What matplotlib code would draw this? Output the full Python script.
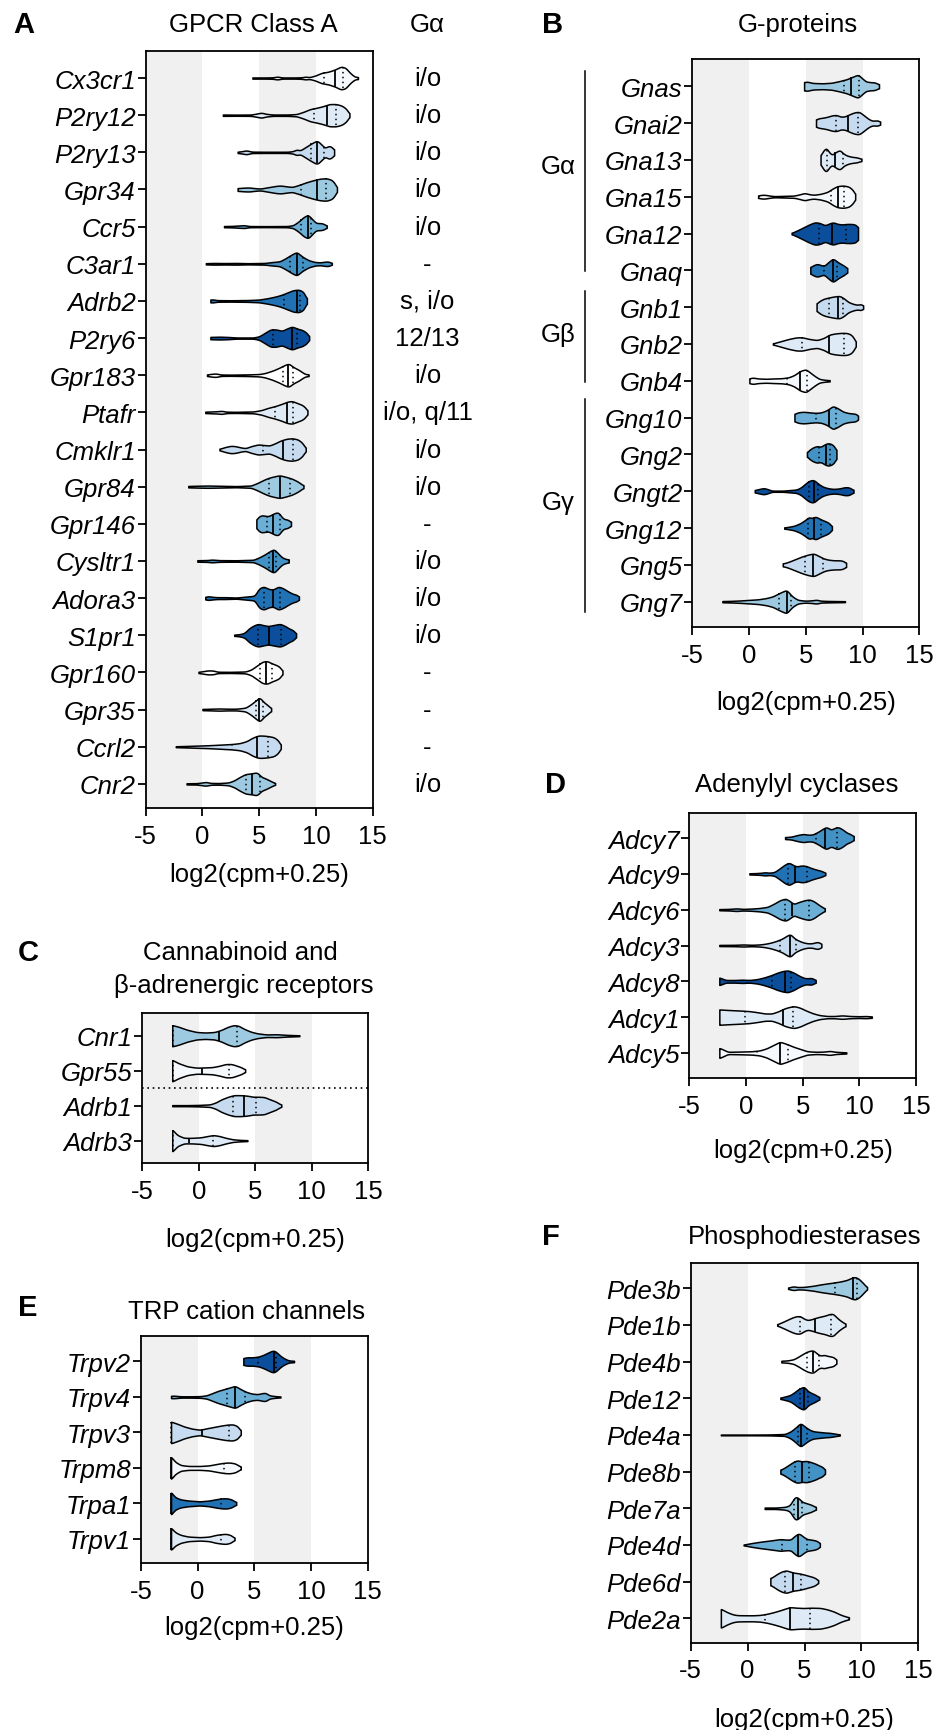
import numpy as np
import matplotlib
matplotlib.use("Agg")
import matplotlib.pyplot as plt
from matplotlib.lines import Line2D

plt.rcParams['font.family'] = ['Liberation Sans', 'DejaVu Sans']
plt.rcParams['axes.unicode_minus'] = False

# ---------------- DATA ----------------
# Each violin: knot positions (log2(cpm+0.25)) and relative density at those knots,
# plus median and quartiles, all read from the reference picture.

# Panel A: GPCR class A
A_genes = ["Cx3cr1", "P2ry12", "P2ry13", "Gpr34", "Ccr5", "C3ar1", "Adrb2", "P2ry6", "Gpr183", "Ptafr",
           "Cmklr1", "Gpr84", "Gpr146", "Cysltr1", "Adora3", "S1pr1", "Gpr160", "Gpr35", "Ccrl2", "Cnr2"]
A_galpha = ["i/o", "i/o", "i/o", "i/o", "i/o", "-", "s, i/o", "12/13", "i/o", "i/o, q/11",
            "i/o", "i/o", "-", "i/o", "i/o", "i/o", "-", "-", "-", "i/o"]
A_median = [11.65, 10.97, 10.1, 10.1, 9.26, 8.3, 8.32, 7.88, 7.5, 7.45, 7.1, 6.8, 6.2, 6.2, 6.2, 5.82, 5.6, 5.0, 4.85, 4.4]
A_q1 = [10.7, 9.85, 9.6, 8.7, 8.7, 7.7, 7.2, 6.2, 7.1, 6.4, 5.3, 5.9, 5.7, 5.9, 5.4, 4.9, 5.1, 4.7, 2.6, 3.8]
A_q3 = [12.4, 11.75, 10.7, 10.9, 9.6, 8.9, 8.6, 8.3, 8.0, 8.0, 8.0, 7.7, 6.8, 6.5, 6.8, 6.9, 6.1, 5.3, 5.8, 5.1]
A_x = [
    [4.4, 5.5, 6.2, 6.6, 7.0, 8.2, 8.8, 9.1, 9.4, 9.9, 10.5, 11.1, 11.7, 12.2, 12.6, 13.0, 13.4, 13.7],
    [1.8, 3.0, 4.3, 4.8, 5.2, 5.6, 6.2, 7.5, 8.3, 8.9, 9.5, 10.0, 10.6, 11.2, 11.8, 12.3, 12.7, 12.95],
    [3.1, 3.5, 3.9, 4.3, 5.5, 7.5, 8.0, 8.3, 8.6, 9.1, 9.6, 10.1, 10.5, 10.8, 11.1, 11.35, 11.6],
    [3.1, 3.6, 4.1, 4.6, 5.1, 5.8, 6.5, 6.9, 7.4, 7.9, 8.5, 9.1, 9.7, 10.3, 10.9, 11.4, 11.7, 11.85],
    [1.9, 2.6, 3.3, 3.7, 4.1, 5.5, 7.5, 8.0, 8.5, 8.9, 9.3, 9.7, 10.0, 10.3, 10.6, 10.95],
    [0.3, 1.0, 2.0, 3.0, 4.0, 5.5, 6.2, 6.8, 7.3, 7.8, 8.3, 8.8, 9.35, 9.9, 10.4, 10.8, 11.1, 11.4],
    [0.7, 0.9, 1.3, 2.5, 4.0, 5.0, 5.8, 6.5, 7.0, 7.5, 8.0, 8.5, 8.9, 9.2],
    [0.7, 1.5, 2.2, 3.0, 4.5, 5.0, 5.5, 6.0, 6.5, 7.0, 7.5, 7.9, 8.4, 8.8, 9.2, 9.4],
    [0.4, 0.8, 1.2, 1.6, 2.5, 4.0, 5.0, 5.5, 6.2, 6.8, 7.2, 7.6, 8.0, 8.5, 9.0, 9.35],
    [0.25, 0.8, 1.3, 1.7, 2.1, 3.0, 4.5, 5.2, 5.8, 6.4, 7.0, 7.5, 7.9, 8.4, 8.8, 9.1, 9.25],
    [1.5, 2.0, 2.5, 2.9, 3.4, 3.8, 4.3, 4.9, 5.4, 5.9, 6.4, 6.9, 7.4, 7.9, 8.4, 8.8, 9.1],
    [-1.25, -0.5, 0.5, 1.5, 3.0, 4.3, 4.9, 5.4, 5.9, 6.4, 6.8, 7.3, 7.9, 8.4, 8.9],
    [4.75, 4.9, 5.2, 5.5, 5.8, 6.1, 6.4, 6.7, 7.0, 7.2, 7.5, 7.8],
    [-0.45, 0.5, 0.8, 1.5, 3.0, 4.5, 5.0, 5.5, 5.9, 6.3, 6.6, 7.0, 7.3, 7.6],
    [0.25, 0.5, 0.8, 1.3, 2.0, 3.0, 4.6, 5.0, 5.4, 5.8, 6.2, 6.7, 7.1, 7.6, 8.0, 8.3, 8.5],
    [2.8, 3.3, 3.7, 4.1, 4.5, 4.9, 5.3, 5.8, 6.3, 6.85, 7.3, 7.7, 8.0, 8.25],
    [-0.35, 0.0, 0.5, 1.0, 1.3, 2.5, 3.8, 4.3, 4.8, 5.3, 5.7, 6.1, 6.5, 6.8, 7.05],
    [0.0, 0.8, 1.5, 2.2, 3.0, 3.8, 4.3, 4.7, 5.05, 5.4, 5.7, 6.05],
    [-2.35, -1.0, 0.5, 1.5, 2.6, 3.3, 3.9, 4.4, 4.9, 5.3, 5.8, 6.3, 6.7, 6.9],
    [-1.4, -0.5, 0.0, 0.3, 0.7, 1.5, 2.3, 2.8, 3.3, 3.8, 4.3, 4.8, 5.2, 5.6, 6.0, 6.4],
]
A_w = [
    [0.05, 0.05, 0.06, 0.13, 0.05, 0.05, 0.07, 0.13, 0.07, 0.2, 0.45, 0.55, 0.75, 1.0, 0.9, 0.45, 0.12, 0.08],
    [0.06, 0.05, 0.06, 0.15, 0.23, 0.12, 0.06, 0.06, 0.1, 0.3, 0.55, 0.65, 0.8, 1.0, 1.0, 0.85, 0.55, 0.1],
    [0.05, 0.1, 0.17, 0.06, 0.05, 0.05, 0.1, 0.25, 0.15, 0.45, 0.75, 1.0, 0.65, 0.35, 0.55, 0.5, 0.2],
    [0.12, 0.16, 0.18, 0.12, 0.08, 0.2, 0.32, 0.35, 0.28, 0.22, 0.4, 0.62, 0.8, 0.95, 1.0, 0.85, 0.5, 0.1],
    [0.05, 0.06, 0.1, 0.12, 0.05, 0.04, 0.05, 0.12, 0.45, 0.8, 1.0, 0.6, 0.3, 0.3, 0.28, 0.08],
    [0.05, 0.07, 0.06, 0.07, 0.05, 0.07, 0.15, 0.2, 0.45, 0.75, 1.0, 0.6, 0.3, 0.15, 0.12, 0.18, 0.2, 0.06],
    [0.12, 0.14, 0.07, 0.06, 0.08, 0.12, 0.25, 0.4, 0.55, 0.75, 0.95, 1.0, 0.8, 0.15],
    [0.1, 0.12, 0.1, 0.05, 0.05, 0.15, 0.45, 0.75, 0.75, 0.62, 0.85, 1.0, 0.8, 0.7, 0.45, 0.1],
    [0.06, 0.12, 0.15, 0.06, 0.05, 0.07, 0.1, 0.18, 0.4, 0.65, 0.85, 1.0, 0.7, 0.45, 0.12, 0.06],
    [0.06, 0.08, 0.1, 0.14, 0.06, 0.05, 0.08, 0.2, 0.4, 0.55, 0.75, 0.95, 1.0, 0.8, 0.65, 0.4, 0.1],
    [0.06, 0.22, 0.33, 0.3, 0.18, 0.12, 0.3, 0.45, 0.4, 0.35, 0.55, 0.8, 0.95, 1.0, 0.9, 0.6, 0.1],
    [0.06, 0.08, 0.1, 0.08, 0.05, 0.1, 0.35, 0.6, 0.8, 0.92, 1.0, 0.88, 0.7, 0.45, 0.1],
    [0.3, 0.6, 0.75, 0.7, 0.65, 0.8, 0.95, 1.0, 0.55, 0.4, 0.38, 0.15],
    [0.06, 0.08, 0.12, 0.07, 0.06, 0.1, 0.3, 0.55, 0.8, 1.0, 0.7, 0.3, 0.18, 0.12],
    [0.1, 0.17, 0.12, 0.08, 0.08, 0.05, 0.2, 0.85, 1.0, 0.8, 0.72, 1.0, 0.85, 0.55, 0.35, 0.3, 0.1],
    [0.05, 0.1, 0.2, 0.6, 0.85, 1.0, 0.9, 0.8, 0.9, 1.0, 0.8, 0.55, 0.45, 0.12],
    [0.05, 0.1, 0.18, 0.16, 0.06, 0.05, 0.08, 0.25, 0.6, 0.95, 1.0, 0.8, 0.65, 0.5, 0.1],
    [0.05, 0.07, 0.09, 0.07, 0.07, 0.15, 0.45, 0.75, 1.0, 0.6, 0.4, 0.1],
    [0.04, 0.08, 0.13, 0.18, 0.24, 0.32, 0.5, 0.8, 1.0, 1.0, 0.95, 0.85, 0.55, 0.1],
    [0.05, 0.06, 0.12, 0.17, 0.08, 0.07, 0.12, 0.3, 0.6, 0.85, 0.9, 1.0, 0.6, 0.45, 0.25, 0.06],
]

# Panel B: G-proteins
B_genes = ["Gnas", "Gnai2", "Gna13", "Gna15", "Gna12", "Gnaq", "Gnb1", "Gnb2", "Gnb4",
           "Gng10", "Gng2", "Gngt2", "Gng12", "Gng5", "Gng7"]
B_groups = ["Gα", "Gβ", "Gγ"]
B_median = [9.0, 8.7, 7.6, 7.8, 7.35, 7.4, 7.8, 7.0, 4.5, 7.05, 6.8, 5.75, 5.75, 5.67, 3.3]
B_q1 = [8.4, 7.7, 6.9, 7.2, 6.2, 6.6, 7.0, 4.7, 3.3, 5.9, 6.2, 5.3, 5.2, 4.9, 2.6]
B_q3 = [9.65, 9.6, 8.25, 8.35, 8.5, 7.75, 8.3, 8.35, 5.1, 7.7, 7.1, 6.1, 6.3, 6.5, 3.7]
B_x = [
    [4.85, 5.1, 5.6, 6.5, 7.3, 8.0, 8.6, 9.1, 9.6, 10.0, 10.3, 10.7, 11.1, 11.45],
    [5.9, 6.1, 6.5, 6.9, 7.3, 7.7, 8.1, 8.5, 8.9, 9.3, 9.7, 10.1, 10.5, 10.85, 11.1, 11.35, 11.55],
    [6.3, 6.5, 6.8, 7.05, 7.3, 7.6, 8.0, 8.3, 8.6, 9.0, 9.5, 9.9],
    [0.8, 1.1, 1.4, 1.8, 2.2, 3.0, 4.0, 4.5, 4.9, 5.3, 5.7, 6.3, 6.9, 7.4, 7.8, 8.3, 8.8, 9.2, 9.35],
    [3.75, 4.3, 4.8, 5.3, 5.8, 6.2, 6.7, 7.1, 7.4, 7.8, 8.2, 8.6, 9.0, 9.4, 9.6],
    [5.4, 5.6, 6.0, 6.3, 6.6, 7.0, 7.4, 7.8, 8.15, 8.4, 8.65],
    [5.95, 6.2, 6.6, 7.0, 7.5, 8.0, 8.4, 8.75, 9.2, 9.6, 9.85, 10.05],
    [2.1, 2.8, 3.5, 4.2, 4.7, 5.3, 6.0, 6.6, 7.1, 7.6, 8.1, 8.6, 9.0, 9.3, 9.4],
    [0.03, 0.3, 0.8, 1.5, 2.2, 2.9, 3.5, 4.0, 4.5, 5.0, 5.4, 5.8, 6.2, 6.7, 7.1],
    [4.0, 4.3, 4.8, 5.3, 5.9, 6.4, 6.9, 7.4, 7.9, 8.3, 8.8, 9.2, 9.5, 9.6],
    [5.1, 5.3, 5.6, 6.0, 6.3, 6.6, 6.9, 7.2, 7.5, 7.7],
    [0.5, 0.9, 1.3, 1.6, 2.0, 3.0, 4.2, 4.6, 5.0, 5.35, 5.7, 6.1, 6.5, 7.0, 7.5, 8.0, 8.4, 8.8, 9.2],
    [3.1, 3.6, 4.0, 4.5, 4.9, 5.3, 5.6, 5.8, 6.1, 6.4, 6.8, 7.1, 7.3],
    [2.97, 3.3, 3.7, 4.2, 4.7, 5.2, 5.7, 6.2, 6.6, 7.0, 7.5, 8.0, 8.3, 8.55],
    [-2.35, -1.5, -0.8, 0.0, 0.8, 1.5, 2.1, 2.7, 3.3, 3.8, 4.3, 5.0, 5.6, 5.95, 6.3, 7.0, 8.45],
]
B_w = [
    [0.35, 0.4, 0.28, 0.25, 0.3, 0.45, 0.6, 0.8, 1.0, 0.65, 0.4, 0.35, 0.33, 0.15],
    [0.3, 0.42, 0.47, 0.55, 0.68, 0.72, 0.55, 0.6, 0.8, 0.95, 1.0, 0.7, 0.38, 0.2, 0.22, 0.25, 0.1],
    [0.3, 0.7, 1.0, 0.6, 0.38, 0.6, 0.8, 0.5, 0.35, 0.25, 0.2, 0.08],
    [0.1, 0.17, 0.17, 0.1, 0.05, 0.07, 0.1, 0.22, 0.33, 0.22, 0.17, 0.25, 0.42, 0.75, 0.95, 1.0, 0.9, 0.55, 0.15],
    [0.05, 0.3, 0.55, 0.8, 1.0, 0.95, 0.72, 0.9, 1.0, 0.85, 0.8, 0.85, 0.85, 0.8, 0.5],
    [0.25, 0.4, 0.55, 0.45, 0.35, 0.7, 1.0, 0.7, 0.5, 0.38, 0.15],
    [0.3, 0.55, 0.75, 0.85, 0.95, 1.0, 0.75, 0.45, 0.28, 0.2, 0.3, 0.12],
    [0.05, 0.25, 0.45, 0.6, 0.6, 0.45, 0.35, 0.55, 0.85, 0.95, 1.0, 1.0, 0.85, 0.45, 0.1],
    [0.2, 0.28, 0.2, 0.17, 0.2, 0.22, 0.3, 0.5, 0.85, 1.0, 0.7, 0.4, 0.15, 0.08, 0.05],
    [0.3, 0.45, 0.5, 0.45, 0.4, 0.45, 0.65, 1.0, 0.75, 0.5, 0.38, 0.35, 0.3, 0.1],
    [0.15, 0.4, 0.6, 0.75, 0.65, 0.85, 1.0, 0.95, 0.75, 0.3],
    [0.1, 0.2, 0.28, 0.2, 0.05, 0.05, 0.15, 0.35, 0.7, 0.95, 1.0, 0.65, 0.4, 0.25, 0.2, 0.25, 0.35, 0.35, 0.1],
    [0.05, 0.12, 0.2, 0.4, 0.65, 0.95, 0.8, 1.0, 0.85, 0.7, 0.55, 0.4, 0.1],
    [0.12, 0.2, 0.35, 0.55, 0.75, 0.9, 1.0, 0.75, 0.55, 0.45, 0.4, 0.4, 0.35, 0.15],
    [0.05, 0.07, 0.1, 0.15, 0.2, 0.3, 0.45, 0.75, 1.0, 0.45, 0.15, 0.08, 0.12, 0.17, 0.08, 0.06, 0.04],
]

# Panel C: cannabinoid and beta-adrenergic receptors
C_genes = ["Cnr1", "Gpr55", "Adrb1", "Adrb3"]
C_median = [1.8, 0.3, 3.98, -0.9]
C_q1 = [-2.3, -2.3, 3.0, -2.3]
C_q3 = [3.4, 2.65, 5.1, 1.3]
C_x = [
    [-2.35, -1.8, -1.0, -0.2, 0.6, 1.4, 2.0, 2.6, 3.1, 3.5, 4.0, 4.6, 5.2, 6.0, 6.9, 7.8, 8.9],
    [-2.35, -1.8, -1.0, -0.2, 0.5, 1.2, 1.8, 2.4, 2.9, 3.4, 3.8, 4.1],
    [-2.35, -1.0, 0.0, 1.0, 1.5, 2.0, 2.6, 3.1, 3.7, 4.3, 4.8, 5.3, 5.8, 6.3, 6.8, 7.3],
    [-2.35, -1.9, -1.3, -0.6, 0.2, 0.8, 1.3, 1.8, 2.4, 3.0, 3.6, 4.3],
]
C_w = [
    [1.0, 0.85, 0.55, 0.35, 0.3, 0.35, 0.55, 0.85, 1.0, 0.95, 0.65, 0.38, 0.22, 0.12, 0.14, 0.08, 0.04],
    [1.0, 0.7, 0.4, 0.28, 0.3, 0.33, 0.45, 0.62, 0.62, 0.45, 0.3, 0.1],
    [0.05, 0.05, 0.07, 0.12, 0.3, 0.6, 0.85, 1.0, 1.0, 0.95, 0.85, 0.85, 0.82, 0.6, 0.4, 0.08],
    [1.0, 0.5, 0.25, 0.25, 0.3, 0.42, 0.5, 0.42, 0.25, 0.12, 0.07, 0.04],
]

# Panel D: adenylyl cyclases
D_genes = ["Adcy7", "Adcy9", "Adcy6", "Adcy3", "Adcy8", "Adcy1", "Adcy5"]
D_median = [6.95, 4.3, 4.1, 3.87, 3.43, 3.28, 3.0]
D_q1 = [6.2, 3.7, 3.4, 3.0, 2.26, -0.05, 1.0]
D_q3 = [8.0, 5.35, 5.6, 4.45, 4.0, 4.15, 3.7]
D_x = [
    [3.45, 4.0, 4.5, 5.05, 5.5, 5.9, 6.4, 6.8, 7.1, 7.5, 7.8, 8.1, 8.5, 8.9, 9.2, 9.5],
    [0.3, 0.9, 1.4, 1.7, 2.0, 2.5, 3.0, 3.4, 3.8, 4.2, 4.5, 4.9, 5.3, 5.8, 6.3, 6.7, 7.0],
    [-2.35, -1.5, -0.8, -0.3, 0.5, 1.2, 1.9, 2.5, 3.0, 3.5, 3.9, 4.2, 4.7, 5.2, 5.6, 6.0, 6.4, 6.95],
    [-2.35, -1.0, -0.2, 0.5, 1.2, 1.7, 2.2, 2.7, 3.2, 3.6, 3.9, 4.3, 4.7, 5.1, 5.5, 5.9, 6.2, 6.5, 6.65],
    [-2.35, -2.1, -1.8, -1.0, -0.3, 0.3, 1.0, 1.6, 2.2, 2.8, 3.3, 3.7, 4.2, 4.7, 5.2, 5.5, 5.8, 6.15],
    [-2.35, -1.5, -0.5, 0.3, 1.0, 1.7, 2.3, 2.9, 3.4, 3.9, 4.3, 4.8, 5.3, 5.9, 6.5, 7.2, 7.8, 8.5, 9.2, 10.0, 10.6, 11.1],
    [-2.35, -2.0, -1.6, -0.5, 0.5, 1.2, 1.8, 2.4, 3.0, 3.6, 4.2, 4.8, 5.4, 6.2, 6.9, 7.4, 7.9, 8.85],
]
D_w = [
    [0.08, 0.12, 0.25, 0.35, 0.28, 0.3, 0.55, 0.8, 0.95, 0.7, 0.85, 0.95, 0.75, 0.45, 0.35, 0.15],
    [0.05, 0.07, 0.1, 0.15, 0.1, 0.15, 0.5, 0.8, 1.0, 0.75, 0.65, 0.75, 0.7, 0.5, 0.35, 0.25, 0.08],
    [0.05, 0.07, 0.12, 0.07, 0.1, 0.15, 0.25, 0.55, 0.85, 1.0, 0.75, 0.5, 0.7, 0.85, 0.92, 0.75, 0.45, 0.1],
    [0.05, 0.06, 0.09, 0.06, 0.09, 0.15, 0.25, 0.4, 0.6, 0.85, 1.0, 0.6, 0.4, 0.25, 0.18, 0.2, 0.3, 0.28, 0.1],
    [0.35, 0.25, 0.12, 0.12, 0.15, 0.12, 0.2, 0.35, 0.55, 0.8, 0.95, 1.0, 0.8, 0.5, 0.28, 0.28, 0.32, 0.1],
    [0.7, 0.65, 0.6, 0.55, 0.45, 0.33, 0.33, 0.55, 0.8, 0.95, 1.0, 0.85, 0.6, 0.35, 0.18, 0.1, 0.1, 0.16, 0.1, 0.08, 0.1, 0.06],
    [0.45, 0.3, 0.1, 0.12, 0.15, 0.22, 0.4, 0.7, 1.0, 0.8, 0.55, 0.35, 0.15, 0.1, 0.12, 0.18, 0.1, 0.05],
]

# Panel E: TRP cation channels
E_genes = ["Trpv2", "Trpv4", "Trpv3", "Trpm8", "Trpa1", "Trpv1"]
E_median = [6.7, 3.3, 0.35, -2.35, -2.35, -2.35]
E_q1 = [5.3, 2.55, -2.35, -2.35, -2.35, -2.35]
E_q3 = [6.95, 4.2, 2.8, 2.3, 2.1, 2.1]
E_x = [
    [4.03, 4.3, 4.9, 5.4, 5.8, 6.2, 6.5, 6.75, 7.0, 7.3, 7.6, 8.0, 8.5],
    [-2.35, -2.1, -1.5, -0.5, 0.3, 0.8, 1.3, 1.8, 2.3, 2.8, 3.3, 3.8, 4.3, 4.8, 5.3, 5.7, 6.0, 6.3, 6.8, 7.3],
    [-2.35, -1.8, -1.2, -0.5, 0.2, 0.8, 1.4, 2.0, 2.6, 3.1, 3.5, 3.8],
    [-2.35, -2.0, -1.5, -0.8, 0.2, 1.0, 1.7, 2.3, 2.8, 3.3, 3.8],
    [-2.35, -2.0, -1.5, -0.8, 0.2, 1.0, 1.7, 2.2, 2.6, 3.0, 3.4],
    [-2.35, -2.0, -1.5, -0.8, 0.2, 1.0, 1.6, 2.1, 2.5, 2.9, 3.25],
]
E_w = [
    [0.3, 0.38, 0.38, 0.45, 0.6, 0.8, 0.95, 1.0, 0.8, 0.5, 0.3, 0.1, 0.06],
    [0.1, 0.12, 0.06, 0.06, 0.08, 0.15, 0.35, 0.55, 0.7, 0.85, 1.0, 0.7, 0.45, 0.3, 0.25, 0.35, 0.38, 0.15, 0.08, 0.04],
    [1.0, 0.8, 0.55, 0.35, 0.25, 0.38, 0.5, 0.62, 0.72, 0.75, 0.6, 0.15],
    [1.0, 0.55, 0.25, 0.17, 0.17, 0.22, 0.35, 0.45, 0.48, 0.4, 0.1],
    [1.0, 0.55, 0.35, 0.25, 0.18, 0.25, 0.38, 0.45, 0.45, 0.35, 0.1],
    [1.0, 0.6, 0.35, 0.2, 0.15, 0.2, 0.35, 0.42, 0.45, 0.35, 0.08],
]

# Panel F: phosphodiesterases
F_genes = ["Pde3b", "Pde1b", "Pde4b", "Pde12", "Pde4a", "Pde8b", "Pde7a", "Pde4d", "Pde6d", "Pde2a"]
F_median = [9.3, 5.95, 5.75, 4.95, 4.7, 4.8, 4.4, 4.45, 4.0, 3.75]
F_q1 = [7.7, 4.6, 5.2, 4.6, 4.4, 4.2, 4.05, 3.0, 3.3, 1.5]
F_q3 = [9.6, 7.35, 6.3, 5.3, 5.2, 5.4, 4.8, 5.2, 4.65, 5.5]
F_x = [
    [3.56, 3.8, 4.05, 4.4, 5.0, 5.8, 6.4, 7.0, 7.6, 8.2, 8.75, 9.1, 9.45, 9.8, 10.2, 10.5],
    [2.6, 3.2, 3.75, 4.2, 4.6, 5.0, 5.3, 5.7, 6.0, 6.4, 6.8, 7.2, 7.5, 7.8, 8.1, 8.6],
    [2.97, 3.5, 4.05, 4.5, 4.9, 5.3, 5.75, 6.1, 6.4, 6.7, 7.0, 7.3, 7.6, 7.8],
    [2.88, 3.3, 3.75, 4.1, 4.5, 4.95, 5.3, 5.6, 5.95, 6.3],
    [-2.35, -1.0, 0.5, 2.0, 3.3, 3.8, 4.2, 4.65, 5.1, 5.5, 5.8, 6.3, 6.8, 7.2, 7.6, 8.1],
    [2.88, 3.2, 3.6, 4.0, 4.35, 4.8, 5.1, 5.4, 5.7, 6.0, 6.3, 6.6, 6.8],
    [1.5, 2.5, 3.3, 3.7, 4.0, 4.2, 4.5, 4.8, 5.2, 5.6, 6.0],
    [-0.35, 0.3, 1.1, 2.0, 2.9, 3.4, 3.8, 4.1, 4.5, 4.9, 5.2, 5.6, 5.9, 6.2, 6.35],
    [2.0, 2.3, 2.6, 3.0, 3.4, 3.7, 4.05, 4.5, 4.95, 5.3, 5.7, 6.0, 6.2],
    [-2.35, -1.8, -1.3, -0.9, -0.2, 0.5, 1.1, 1.7, 2.3, 2.9, 3.4, 3.75, 4.3, 4.95, 5.6, 6.4, 7.0, 7.6, 8.0, 8.3, 8.9],
]
F_w = [
    [0.05, 0.12, 0.17, 0.1, 0.12, 0.22, 0.33, 0.42, 0.5, 0.6, 0.73, 0.9, 1.0, 0.8, 0.4, 0.06],
    [0.05, 0.3, 0.55, 0.72, 0.75, 0.5, 0.4, 0.5, 0.6, 0.7, 0.78, 0.92, 0.95, 0.65, 0.4, 0.08],
    [0.07, 0.1, 0.2, 0.45, 0.7, 0.9, 1.0, 0.7, 0.5, 0.6, 0.5, 0.45, 0.38, 0.12],
    [0.05, 0.15, 0.27, 0.5, 0.8, 1.0, 0.6, 0.45, 0.3, 0.08],
    [0.03, 0.03, 0.03, 0.04, 0.08, 0.3, 0.6, 1.0, 0.65, 0.4, 0.3, 0.25, 0.2, 0.18, 0.12, 0.04],
    [0.15, 0.3, 0.55, 0.8, 0.95, 0.85, 0.9, 0.85, 0.75, 0.65, 0.5, 0.4, 0.12],
    [0.05, 0.05, 0.1, 0.2, 0.6, 0.85, 0.7, 0.45, 0.35, 0.25, 0.08],
    [0.03, 0.15, 0.27, 0.38, 0.5, 0.45, 0.45, 0.75, 1.0, 0.7, 0.5, 0.45, 0.4, 0.3, 0.1],
    [0.28, 0.45, 0.65, 0.85, 0.95, 0.85, 0.75, 0.7, 0.6, 0.5, 0.4, 0.28, 0.08],
    [0.85, 0.55, 0.35, 0.28, 0.27, 0.27, 0.3, 0.4, 0.55, 0.73, 0.9, 1.0, 0.95, 0.92, 0.95, 0.93, 0.8, 0.6, 0.4, 0.27, 0.08],
]

# ---------------- STYLE ----------------
BL = ['#ffffff', '#f5f9fe', '#deebf7', '#c6dbef', '#9ecae1', '#6baed6', '#4292c6', '#2171b5', '#0b4f9c']
A_col = [BL[i] for i in [1, 2, 3, 4, 5, 6, 7, 8, 0, 2, 3, 4, 5, 6, 7, 8, 0, 2, 3, 4]]
B_col = [BL[i] for i in [4, 3, 2, 1, 8, 7, 3, 2, 1, 5, 6, 8, 7, 3, 4]]
C_col = [BL[i] for i in [4, 1, 3, 2]]
D_col = [BL[i] for i in [6, 7, 5, 3, 8, 2, 1]]
E_col = [BL[i] for i in [8, 5, 3, 1, 7, 2]]
F_col = [BL[i] for i in [4, 2, 1, 8, 7, 6, 4, 5, 3, 2]]

W, H = 936, 1731
FS = 18.5
fig = plt.figure(figsize=(W / 100, H / 100), dpi=100)


def add_ax(l, r, t, b):
    return fig.add_axes([l / W, 1 - b / H, (r - l) / W, (b - t) / H])


def ftext(x, y, s, **kw):
    kw.setdefault('fontsize', FS)
    fig.text(x / W, 1 - y / H, s, ha='center', va='center', **kw)


def smooth_profile(xk, wk):
    xk = np.asarray(xk, float)
    wk = np.asarray(wk, float)
    xs = np.linspace(xk[0], xk[-1], 500)
    ws = np.interp(xs, xk, wk)
    step = xs[1] - xs[0]
    sig = 0.12 / step
    half = int(np.ceil(3 * sig))
    if half >= 1:
        kern = np.exp(-0.5 * (np.arange(-half, half + 1) / sig) ** 2)
        kern /= kern.sum()
        padded = np.pad(ws, half, mode='edge')
        ws = np.convolve(padded, kern, mode='valid')
    return xs, ws


HALF = 0.3


def draw_panel(ax, genes, xk_list, wk_list, med, q1, q3, cols, top_pad, bot_pad):
    n = len(genes)
    ax.axvspan(-5, 0, color='#f0f0f0', lw=0, zorder=0)
    ax.axvspan(5, 10, color='#f0f0f0', lw=0, zorder=0)
    for i in range(n):
        xs, ws = smooth_profile(xk_list[i], wk_list[i])
        stats = dict(coords=xs, vals=ws, mean=float(np.average(xs, weights=ws)),
                     median=med[i], min=xs[0], max=xs[-1])
        try:
            parts = ax.violin([stats], positions=[i], orientation='horizontal', widths=2 * HALF,
                              showmeans=False, showextrema=False, showmedians=False)
        except TypeError:
            parts = ax.violin([stats], positions=[i], vert=False, widths=2 * HALF,
                              showmeans=False, showextrema=False, showmedians=False)
        for b in parts['bodies']:
            b.set_facecolor(cols[i])
            b.set_edgecolor('black')
            b.set_linewidth(1.1)
            b.set_alpha(1)
            b.set_zorder(2)
        wmax = ws.max()

        def hw(v):
            return HALF * np.interp(v, xs, ws) / wmax

        ax.vlines(med[i], i - hw(med[i]), i + hw(med[i]), colors='black', lw=1.3, zorder=3)
        for q in (q1[i], q3[i]):
            ax.vlines(q, i - hw(q), i + hw(q), colors='black', lw=1.1,
                      linestyles=[(0, (1, 2.2))], zorder=3)
    ax.set_xlim(-5, 15)
    ax.set_xticks([-5, 0, 5, 10, 15])
    ax.set_ylim(n - 1 + bot_pad, -top_pad)
    ax.set_yticks(range(n))
    ax.set_yticklabels(genes, fontstyle='italic')
    for s in ax.spines.values():
        s.set_linewidth(1.3)
        s.set_color('black')
    ax.tick_params(axis='both', length=5.5, width=1.3, labelsize=FS, direction='out')
    ax.tick_params(axis='y', pad=1.5)
    ax.tick_params(axis='x', pad=6)


XL = "log2(cpm+0.25)"

# Panel A
axA = add_ax(145.7, 372.7, 52.3, 809)
draw_panel(axA, A_genes, A_x, A_w, A_median, A_q1, A_q3, A_col, 0.72, 0.65)
ftext(23.5, 25, "A", fontsize=21, fontweight='bold')
ftext(253, 25, "GPCR Class A")
ftext(427.5, 25, "Gα")
for i, g in enumerate(A_galpha):
    yp = axA.transData.transform((0, i))[1]
    fig.text(427.5 / W, yp / fig.bbox.height, g, ha='center', va='center', fontsize=FS)
ftext(259, 875, XL)

# Panel B
axB = add_ax(692.3, 919.3, 60, 627.7)
draw_panel(axB, B_genes, B_x, B_w, B_median, B_q1, B_q3, B_col, 0.74, 0.68)
ftext(552.7, 25, "B", fontsize=21, fontweight='bold')
ftext(798, 25, "G-proteins")
grp_lines = [(72, 271.7), (292, 383.3), (400, 613)]
grp_text_y = [166.7, 335, 503]
for (y0, y1), ty, name in zip(grp_lines, grp_text_y, B_groups):
    fig.add_artist(Line2D([585.3 / W, 585.3 / W], [1 - y0 / H, 1 - y1 / H], color='black', lw=1.1))
    ftext(558, ty, name)
ftext(805.8, 703, XL)

# Panel C
axC = add_ax(142.3, 368.3, 1014, 1164)
draw_panel(axC, C_genes, C_x, C_w, C_median, C_q1, C_q3, C_col, 0.65, 0.64)
axC.axhline(1.5, color='black', lw=1.2, linestyle=(0, (1, 2.2)), zorder=1)
ftext(28, 953, "C", fontsize=21, fontweight='bold')
ftext(240, 953, "Cannabinoid and")
ftext(243.3, 986, "β-adrenergic receptors")
ftext(255.3, 1240, XL)

# Panel D
axD = add_ax(689.3, 916, 814, 1079)
draw_panel(axD, D_genes, D_x, D_w, D_median, D_q1, D_q3, D_col, 0.7, 0.7)
ftext(555.5, 785, "D", fontsize=21, fontweight='bold')
ftext(796.7, 785, "Adenylyl cyclases")
ftext(802.7, 1151, XL)

# Panel E
axE = add_ax(141, 367.7, 1337.3, 1564)
draw_panel(axE, E_genes, E_x, E_w, E_median, E_q1, E_q3, E_col, 0.71, 0.68)
ftext(28, 1308, "E", fontsize=21, fontweight='bold')
ftext(246.7, 1311.7, "TRP cation channels")
ftext(254.3, 1628, XL)

# Panel F
axF = add_ax(690.7, 918.3, 1264.3, 1643.5)
draw_panel(axF, F_genes, F_x, F_w, F_median, F_q1, F_q3, F_col, 0.68, 0.66)
ftext(551, 1237, "F", fontsize=21, fontweight='bold')
ftext(805, 1237, "Phosphodiesterases")
ftext(804.5, 1720, XL)

fig.savefig("out.png", dpi=100)
